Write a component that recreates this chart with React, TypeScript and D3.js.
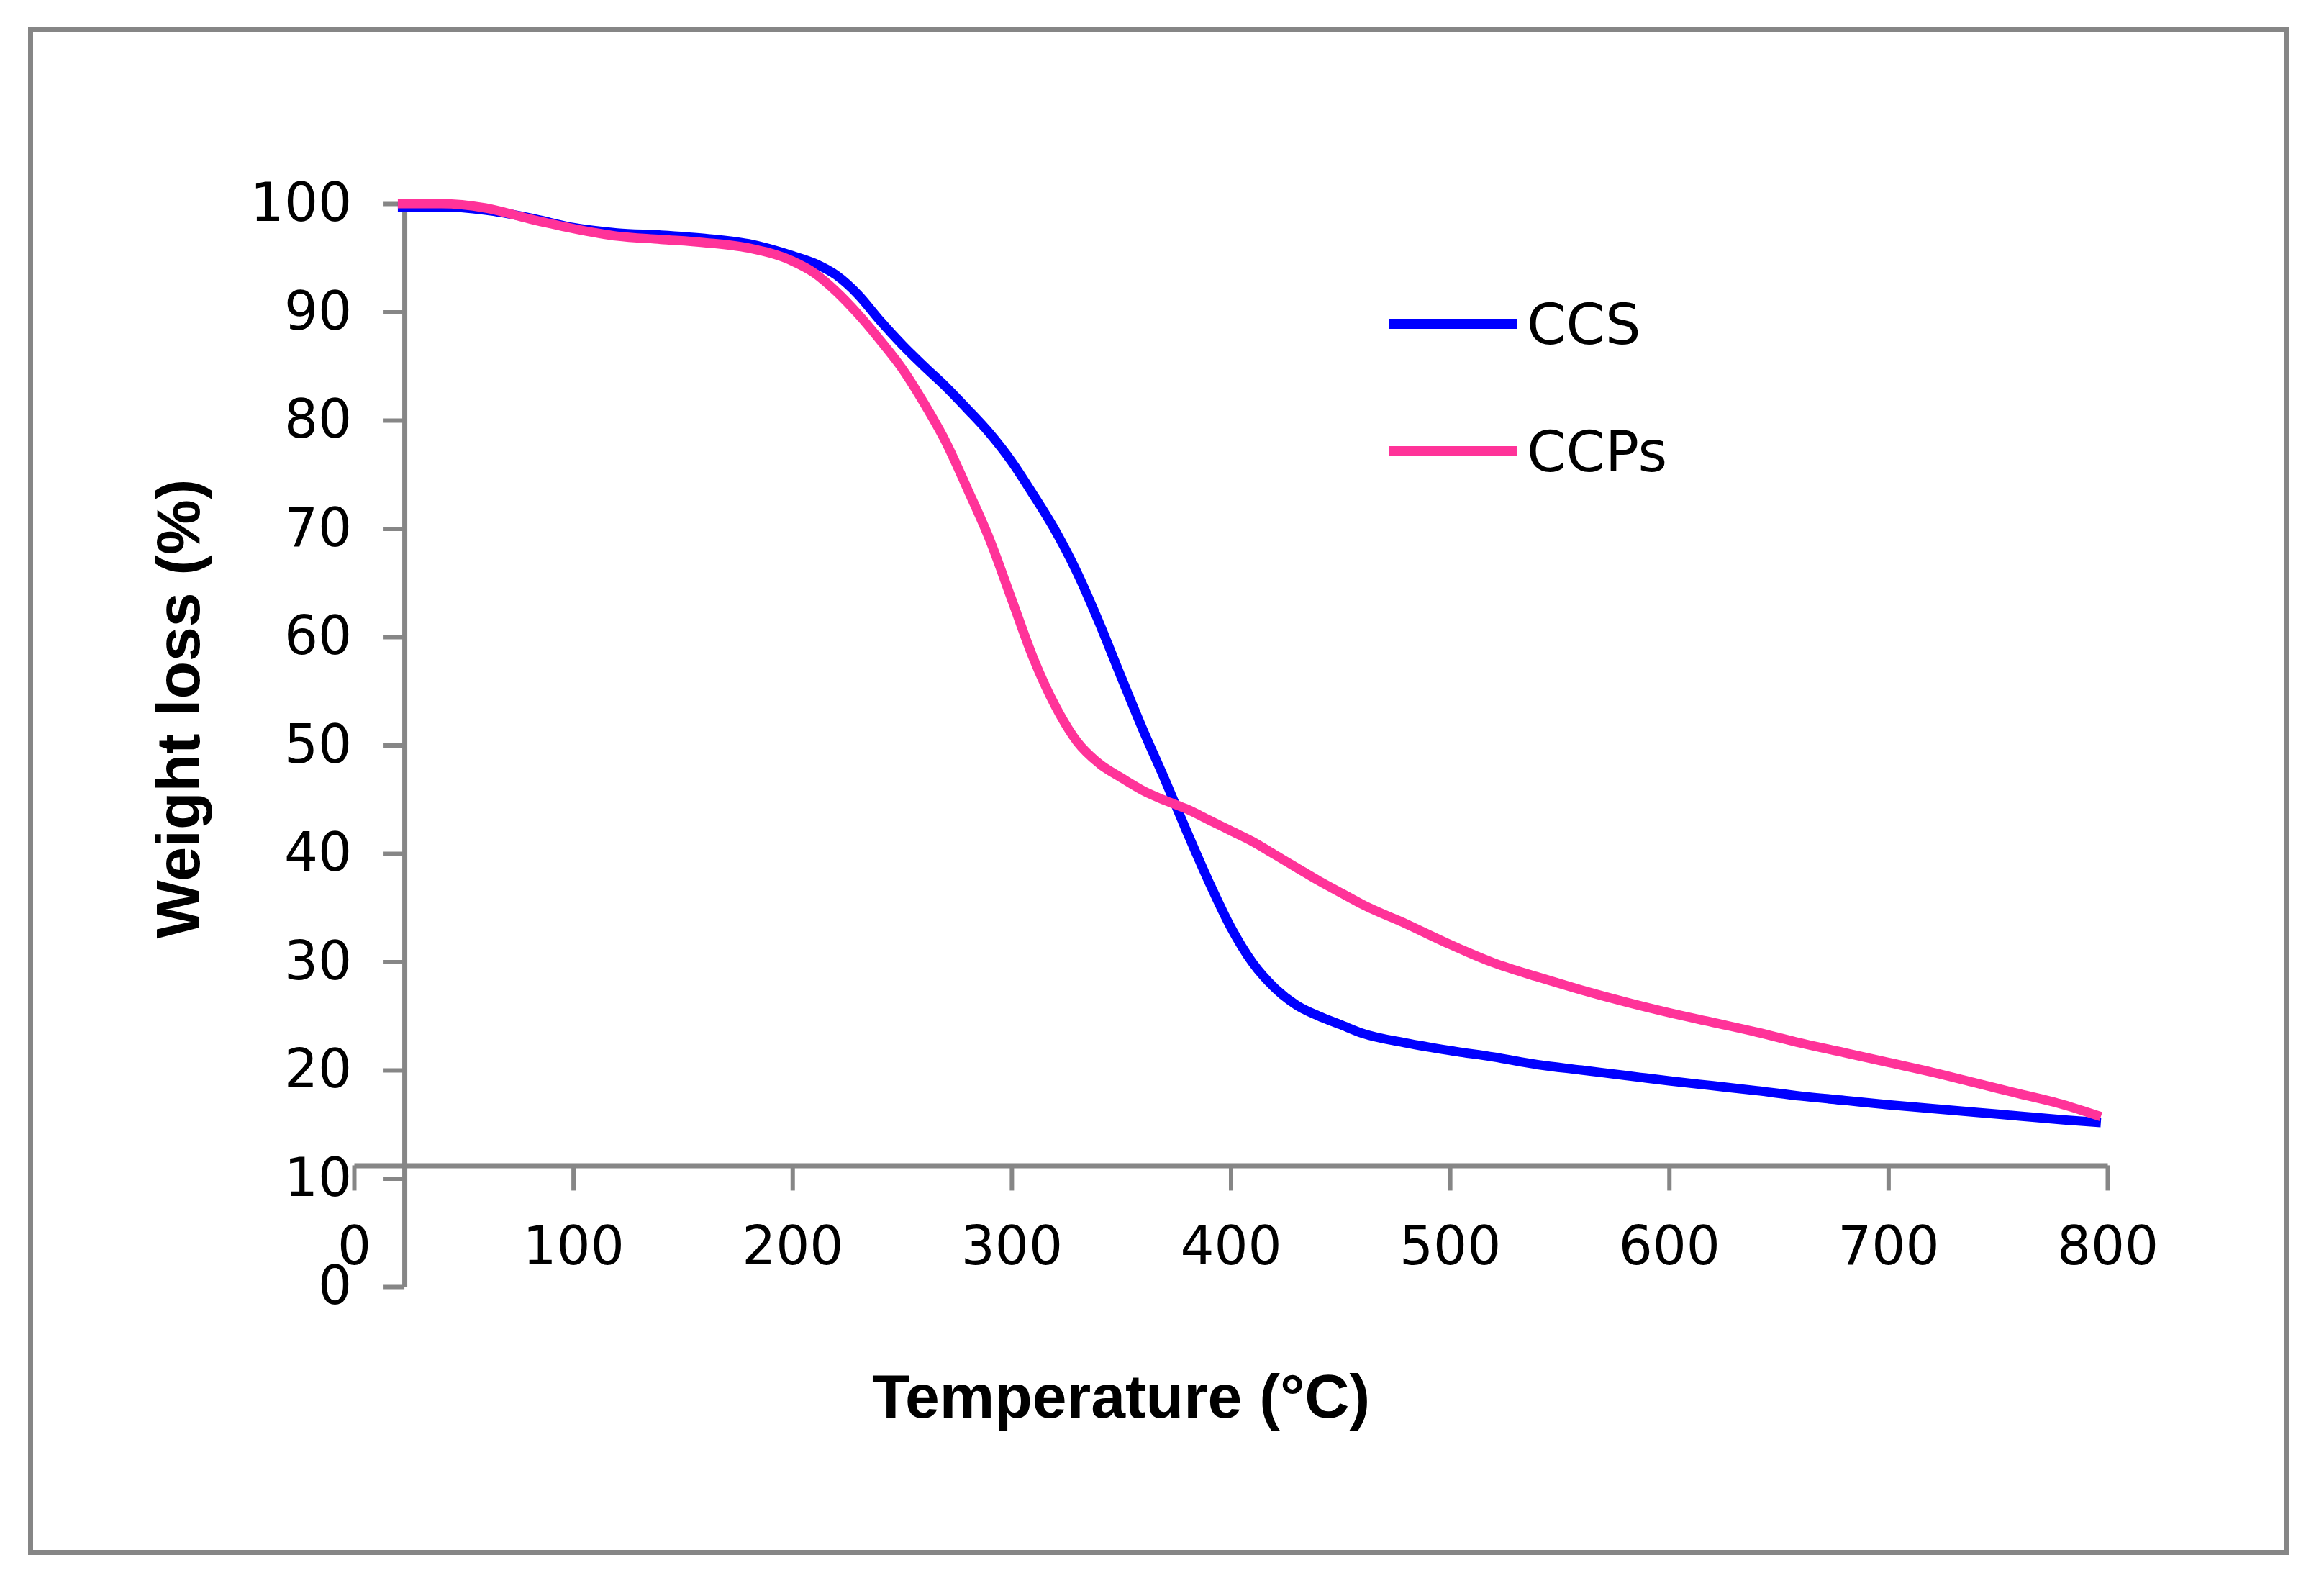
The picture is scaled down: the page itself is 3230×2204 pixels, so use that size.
import React, { useEffect, useRef } from 'react';
import * as d3 from 'd3';

// temperature (°C) and weight (%)
const temps = [
	20, 40, 60, 80, 100, 120, 140, 160, 180, 200, 210, 220, 230, 240, 250, 260, 270, 280, 290, 300, 310,
	320, 330, 340, 350, 360, 370, 380, 390, 400, 410, 420, 430, 440, 450, 460, 480, 500, 520, 540, 560,
	580, 600, 620, 640, 660, 680, 700, 720, 740, 760, 780, 797,
];
const ccs = [
	99.7, 99.7, 99.4, 98.7, 97.8, 97.3, 97.1, 96.8, 96.3, 95.2, 94.5, 93.4, 91.6, 89.2, 87.0, 85.0, 83.1,
	81.0, 78.8, 76.2, 73.1, 69.8, 65.9, 61.3, 56.3, 51.4, 46.8, 42.0, 37.4, 33.2, 29.9, 27.6, 26.0, 25.0,
	24.2, 23.4, 22.5, 21.8, 21.2, 20.5, 20.0, 19.5, 19.0, 18.55, 18.1, 17.6, 17.2, 16.8, 16.45, 16.1,
	15.75, 15.4, 15.15,
];
const ccps = [
	100, 100, 99.6, 98.6, 97.7, 97.0, 96.7, 96.4, 95.9, 94.7, 93.6, 91.9, 89.8, 87.4, 84.8, 81.6, 78.0,
	73.6, 69.0, 63.5, 58.0, 53.6, 50.3, 48.3, 47.0, 45.8, 44.9, 44.1, 43.1, 42.1, 41.1, 39.9, 38.7, 37.5,
	36.4, 35.3, 33.5, 31.6, 29.9, 28.6, 27.4, 26.3, 25.3, 24.4, 23.5, 22.5, 21.6, 20.7, 19.8, 18.8, 17.8,
	16.8, 15.7,
];
const xTicks = [0, 100, 200, 300, 400, 500, 600, 700, 800];
const yTicks = [0, 10, 20, 30, 40, 50, 60, 70, 80, 90, 100];
const seriesNames = ['CCS', 'CCPs'];
const seriesColors = ['#0000ff', '#ff3399'];

// where the axes cross each other (data units)
const yAxisAtTemp = 23;
const xAxisAtWeight = 11.2;

const W = 3230;
const H = 2204;
const axisColor = '#868686';
const tickFont = '"DejaVu Sans", Verdana, sans-serif';
const titleFont = '"Liberation Sans", Arial, sans-serif';

const App: React.FC = () => {
	const xAxisRef = useRef<SVGGElement | null>(null);
	const yAxisRef = useRef<SVGGElement | null>(null);

	const x = d3.scaleLinear().domain([0, 800]).range([492, 2929]);
	const y = d3.scaleLinear().domain([0, 100]).range([1788, 283]);

	useEffect(() => {
		if (!xAxisRef.current || !yAxisRef.current) return;

		const gx = d3.select(xAxisRef.current);
		gx.selectAll('*').remove();
		gx.call(
			d3
				.axisBottom(x)
				.tickValues(xTicks)
				.tickSize(35)
				.tickSizeOuter(0)
				.tickPadding(50)
				.tickFormat((d) => String(d)),
		);
		gx.attr('font-family', tickFont).attr('font-size', 74).attr('color', axisColor);
		gx.select('.domain').attr('stroke-width', 7);
		gx.selectAll('.tick line').attr('stroke-width', 6);
		gx.selectAll('.tick text').attr('fill', '#000');

		const gy = d3.select(yAxisRef.current);
		gy.selectAll('*').remove();
		gy.call(
			d3
				.axisLeft(y)
				.tickValues(yTicks)
				.tickSize(29)
				.tickSizeOuter(0)
				.tickPadding(44)
				.tickFormat((d) => String(d)),
		);
		gy.attr('font-family', tickFont).attr('font-size', 74).attr('color', axisColor);
		gy.select('.domain').attr('stroke-width', 7);
		gy.selectAll('.tick line').attr('stroke-width', 6);
		gy.selectAll('.tick text').attr('fill', '#000');
	}, []);

	const line = d3
		.line<number>()
		.x((_, i) => x(temps[i]))
		.y((d) => y(d))
		.curve(d3.curveMonotoneX);

	const series = [ccs, ccps];

	return (
		<svg
			width={W}
			height={H}
			viewBox={`0 0 ${W} ${H}`}
			style={{ position: 'absolute', left: 0, top: 0, background: '#fff' }}
		>
			<rect x={0} y={0} width={W} height={H} fill='#fff' />
			<rect x={42.5} y={40.5} width={3136} height={2117} fill='none' stroke={axisColor} strokeWidth={7} />

			<g ref={xAxisRef} transform={`translate(0,${y(xAxisAtWeight)})`} />
			<g ref={yAxisRef} transform={`translate(${x(yAxisAtTemp)},0)`} />

			{series.map((vals, i) => (
				<path
					key={seriesNames[i]}
					d={line(vals) ?? ''}
					fill='none'
					stroke={seriesColors[i]}
					strokeWidth={13}
					strokeLinejoin='round'
				/>
			))}

			{/* legend */}
			{seriesNames.map((name, i) => (
				<g key={name} transform={`translate(1930,${450 + i * 177})`}>
					<line x1={0} x2={178} y1={0} y2={0} stroke={seriesColors[i]} strokeWidth={14} />
					<text x={192} y={28} fontFamily={tickFont} fontSize={78} fill='#000'>
						{name}
					</text>
				</g>
			))}

			<text
				x={1558}
				y={1970}
				textAnchor='middle'
				fontFamily={titleFont}
				fontWeight='bold'
				fontSize={86}
				fill='#000'
			>
				Temperature (°C)
			</text>
			<text
				transform={`translate(277,985) rotate(-90)`}
				textAnchor='middle'
				fontFamily={titleFont}
				fontWeight='bold'
				fontSize={86}
				fill='#000'
			>
				Weight loss (%)
			</text>
		</svg>
	);
};

export default App;
